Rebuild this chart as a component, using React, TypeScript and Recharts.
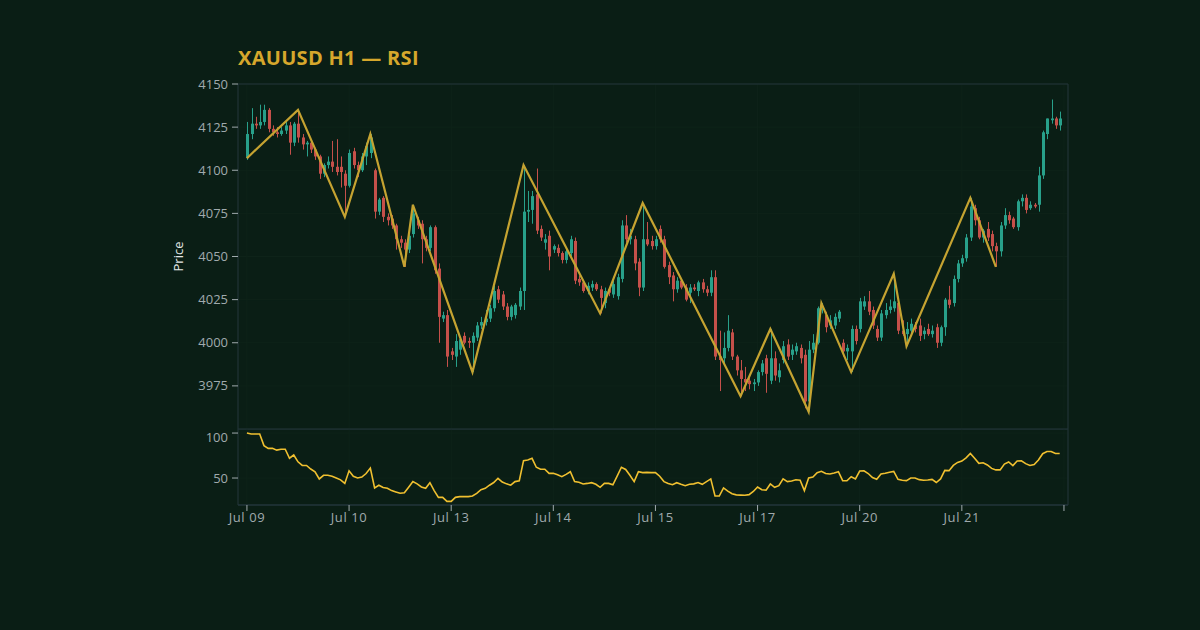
import { Bar, CartesianGrid, ComposedChart, Line, ReferenceArea, XAxis, YAxis } from "recharts";

const opens = [
  4107, 4121, 4127, 4126, 4128, 4135, 4124, 4122, 4121, 4123, 4126, 4116, 4127, 4119, 4115, 4116, 4112, 4108, 4098, 4103,
  4105, 4102, 4102, 4098, 4091, 4111, 4103, 4100, 4108, 4110, 4100, 4076, 4084, 4073, 4072, 4068, 4060, 4058, 4054, 4063,
  4071, 4069, 4060, 4055, 4067, 4043, 4014, 4016, 3995, 3992, 3996, 4004, 4001, 4000, 4003, 4010, 4012, 4014, 4020, 4031,
  4028, 4021, 4015, 4016, 4021, 4030, 4076, 4077, 4086, 4066, 4058, 4062, 4054, 4055, 4052, 4048, 4052, 4059, 4037, 4035,
  4030, 4032, 4034, 4031, 4023, 4031, 4028, 4027, 4037, 4068, 4060, 4060, 4047, 4032, 4060, 4059, 4056, 4066, 4060, 4045,
  4039, 4031, 4036, 4032, 4029, 4032, 4030, 4035, 4031, 4029, 4038, 3992, 3991, 3997, 4006, 3992, 3984, 3979, 3978, 3976,
  3977, 3983, 3991, 3978, 3991, 3980, 3990, 3999, 3993, 3995, 3997, 3993, 3966, 3996, 4000, 4019, 4016, 4010, 4010, 4014,
  4000, 3995, 3995, 4008, 4008, 4021, 4024, 4019, 4008, 4003, 4016, 4019, 4020, 4023, 4007, 4005, 4007, 4010, 4010, 4005,
  4008, 4005, 4009, 4000, 4009, 4025, 4023, 4037, 4046, 4049, 4061, 4078, 4071, 4061, 4066, 4063, 4056, 4053, 4068, 4074,
  4072, 4067, 4082, 4084, 4078, 4080, 4080, 4097, 4121, 4129, 4130, 4126,
];

const highs = [
  4128, 4136, 4131, 4138, 4138, 4136, 4126, 4125, 4125, 4128, 4128, 4128, 4135, 4121, 4117, 4117, 4113, 4109, 4104, 4108,
  4117, 4118, 4108, 4100, 4112, 4113, 4105, 4110, 4116, 4121, 4101, 4084, 4085, 4075, 4074, 4069, 4062, 4060, 4063, 4080,
  4073, 4071, 4062, 4068, 4068, 4046, 4018, 4019, 3997, 4005, 4002, 4006, 4003, 4006, 4012, 4015, 4019, 4022, 4033, 4033,
  4030, 4023, 4022, 4023, 4032, 4103, 4088, 4088, 4101, 4068, 4063, 4065, 4057, 4057, 4053, 4054, 4062, 4061, 4039, 4036,
  4035, 4036, 4035, 4033, 4032, 4032, 4036, 4040, 4071, 4074, 4066, 4062, 4049, 4081, 4070, 4062, 4062, 4068, 4062, 4047,
  4041, 4038, 4037, 4034, 4034, 4034, 4036, 4037, 4033, 4042, 4042, 4007, 4006, 4016, 4008, 3993, 3990, 3986, 3980, 3979,
  3984, 3990, 3993, 4008, 3995, 3988, 4001, 4002, 3999, 4000, 3999, 3996, 4001, 4005, 4021, 4023, 4018, 4016, 4017, 4019,
  4002, 3999, 4010, 4010, 4026, 4027, 4030, 4021, 4010, 4019, 4023, 4025, 4040, 4025, 4013, 4012, 4014, 4012, 4014, 4009,
  4011, 4010, 4011, 4010, 4026, 4033, 4039, 4048, 4051, 4063, 4084, 4080, 4073, 4066, 4070, 4065, 4058, 4070, 4078, 4076,
  4073, 4083, 4086, 4086, 4082, 4081, 4102, 4123, 4130, 4141, 4131, 4134,
];

const lows = [
  4106, 4118, 4124, 4124, 4126, 4122, 4120, 4119, 4120, 4121, 4109, 4114, 4116, 4112, 4108, 4110, 4106, 4095, 4096, 4101,
  4099, 4097, 4090, 4073, 4090, 4101, 4096, 4099, 4103, 4107, 4072, 4074, 4070, 4068, 4066, 4054, 4055, 4044, 4052, 4061,
  4066, 4046, 4053, 4053, 4040, 4000, 4012, 3986, 3990, 3986, 3993, 3999, 3997, 3983, 4001, 4008, 4010, 4012, 4018, 4023,
  4019, 4013, 4013, 4014, 4019, 4019, 4070, 4069, 4063, 4059, 4054, 4042, 4052, 4050, 4046, 4046, 4050, 4034, 4033, 4029,
  4028, 4030, 4030, 4017, 4020, 4027, 4026, 4025, 4035, 4058, 4057, 4042, 4027, 4030, 4056, 4054, 4054, 4058, 4043, 4034,
  4024, 4029, 4031, 4024, 4023, 4030, 4027, 4029, 4027, 4027, 3990, 3972, 3988, 3995, 3990, 3981, 3969, 3972, 3973, 3972,
  3975, 3981, 3971, 3976, 3978, 3977, 3988, 3990, 3990, 3993, 3988, 3962, 3960, 3994, 3999, 4017, 4006, 4008, 4008, 4012,
  3992, 3990, 3983, 3999, 4006, 4019, 4016, 4008, 4001, 4001, 4014, 4017, 4018, 4005, 4004, 3998, 4005, 4006, 4001, 4002,
  4004, 4003, 3997, 3998, 4004, 4020, 4021, 4035, 4044, 4047, 4059, 4068, 4060, 4058, 4059, 4053, 4044, 4050, 4066, 4069,
  4066, 4065, 4079, 4075, 4077, 4078, 4076, 4095, 4118, 4127, 4124, 4123,
];

const closes = [
  4121, 4127, 4126, 4128, 4135, 4124, 4122, 4121, 4123, 4126, 4116, 4127, 4119, 4115, 4116, 4112, 4108, 4098, 4103, 4105,
  4102, 4099, 4099, 4091, 4110, 4103, 4100, 4108, 4114, 4119, 4076, 4083, 4073, 4071, 4068, 4060, 4058, 4054, 4062, 4075,
  4068, 4060, 4055, 4067, 4042, 4015, 4016, 3992, 3993, 4001, 4002, 4000, 4000, 4004, 4010, 4012, 4014, 4020, 4030, 4025,
  4021, 4015, 4021, 4022, 4030, 4076, 4077, 4085, 4065, 4061, 4060, 4050, 4056, 4052, 4048, 4053, 4060, 4036, 4035, 4030,
  4033, 4034, 4031, 4026, 4030, 4029, 4034, 4038, 4068, 4060, 4062, 4046, 4032, 4060, 4057, 4056, 4060, 4060, 4044, 4038,
  4031, 4036, 4032, 4025, 4032, 4031, 4035, 4031, 4029, 4038, 3992, 3990, 3997, 4007, 3992, 3984, 3979, 3977, 3976, 3977,
  3983, 3988, 3982, 3991, 3981, 3984, 3998, 3992, 3996, 3998, 3991, 3966, 3996, 4000, 4020, 4021, 4009, 4013, 4015, 4018,
  3995, 3997, 4008, 4001, 4024, 4024, 4018, 4010, 4003, 4017, 4019, 4021, 4024, 4007, 4005, 4008, 4011, 4008, 4004, 4007,
  4005, 4007, 4000, 4009, 4025, 4022, 4037, 4046, 4049, 4061, 4079, 4071, 4061, 4065, 4061, 4056, 4053, 4068, 4074, 4071,
  4067, 4082, 4084, 4077, 4080, 4079, 4097, 4122, 4130, 4130, 4126, 4130,
];

const rsi = [
  100, 99, 99, 99, 86, 83, 83, 81, 82, 82, 72, 75.6, 68, 64, 64, 60, 57, 49, 53, 53,
  52, 50, 48, 44, 58, 52, 50, 51, 55, 61, 39, 42, 39.5, 38.6, 36, 34.5, 33, 33.5, 39.7, 46,
  43.5, 40, 38.6, 44.8, 36, 28.5, 28.5, 24, 24, 28.5, 29.3, 29.3, 29.3, 30, 33, 37, 38.5, 42, 45, 49.7,
  45.5, 43.5, 42, 46, 47, 69.3, 70, 71.9, 62, 59.7, 59.7, 55.2, 55.2, 53.6, 51.5, 54, 57, 46, 45.2, 43.4,
  44, 44.8, 43, 39.7, 44, 44, 42.5, 52, 62, 59.5, 53, 46, 57, 56, 56.3, 56, 56, 52, 46, 44,
  42.5, 44.8, 43, 41.5, 43, 43.5, 45, 43, 46, 49, 30, 30, 39, 35.5, 32.5, 31.3, 31, 30.8, 31.5, 35,
  40, 37, 36.5, 43.4, 39.7, 41.5, 49, 46, 46.7, 48, 47.5, 36, 50, 51, 56, 57.5, 55, 54.5, 55.5, 57,
  47, 47, 51.5, 49, 57.8, 58, 55, 50.5, 48.6, 54.5, 55.3, 56.5, 57.3, 48.6, 47.5, 47.1, 50, 50, 48.2, 47.6,
  47.8, 48.5, 45, 49, 58.5, 58.2, 64, 67.3, 68.8, 72.5, 77.4, 72, 66.3, 67, 64.5, 60.7, 59, 59, 65.5, 67.8,
  63.8, 68.9, 69.2, 66, 64, 65, 70, 77, 79.5, 79.5, 77.2, 77.2,
];

// zigzag pivots (candle index, price)
const zigIdx = [0, 12, 23, 29, 37, 39, 53, 65, 83, 93, 116, 123, 132, 135, 142, 152, 155, 170, 176];
const zigPrice = [4107, 4135, 4073, 4121, 4044, 4080, 3983, 4103, 4017, 4081, 3969, 4008, 3960, 4023, 3983, 4040, 3998, 4084, 4044];

const xTicks = [0, 24, 48, 72, 96, 120, 144, 168, 192];
const xLabels = ["Jul 09", "Jul 10", "Jul 13", "Jul 14", "Jul 15", "Jul 17", "Jul 20", "Jul 21", ""];
const priceTicks = [3975, 4000, 4025, 4050, 4075, 4100, 4125, 4150];
const rsiTicks = [50, 100];

const BG = "#0a1e15";
const BORDER = "#22343a";
const GRID = "#0e2319";
const TEXT = "#a0aaad";
const BULL = "#28a08a";
const BEAR = "#c5504a";
const FONT = "'Open Sans', 'Noto Sans', sans-serif";

const rows = opens.map((open, i) => {
  const z = zigIdx.indexOf(i);
  return {
    i,
    open,
    high: highs[i],
    low: lows[i],
    close: closes[i],
    range: [lows[i], highs[i]],
    rsi: rsi[i],
    zig: z >= 0 ? zigPrice[z] : null,
  };
});

const X_DOMAIN: [number, number] = [-2.1, 192.95];
const tickFmt = (v: number) => {
  const k = xTicks.indexOf(v);
  return k >= 0 ? xLabels[k] : "";
};

const Candle = (props: any) => {
  const { x, y, width, height } = props;
  const p = props.payload || props;
  const top = Math.min(y, y + height);
  const h = Math.abs(height);
  const k = p.high === p.low ? 0 : h / (p.high - p.low);
  const yo = top + (p.high - p.open) * k;
  const yc = top + (p.high - p.close) * k;
  const color = p.close >= p.open ? BULL : BEAR;
  const cx = Math.round(x + width / 2) + 0.5;
  return (
    <g>
      <line x1={cx} x2={cx} y1={top} y2={top + h} stroke={color} strokeWidth={1} />
      <rect x={cx - 1.5} y={Math.min(yo, yc)} width={3} height={Math.max(1, Math.abs(yc - yo))} fill={color} />
    </g>
  );
};

const tickStyle = { fill: TEXT, fontSize: 13, fontFamily: FONT };
const xTickStyle = { fill: TEXT, fontSize: 13, fontFamily: FONT, letterSpacing: 0.6 };

const App = () => {
  return (
    <div style={{ position: "relative", width: 1200, height: 630, background: BG, fontFamily: FONT }}>
      <style>{`body{margin:0;background:${BG}}`}</style>
      <div style={{ position: "absolute", left: 238, top: 44, color: "#d6a72c", fontSize: 20, fontWeight: 700, letterSpacing: 0.3 }}>
        XAUUSD H1 — RSI
      </div>
      <div style={{ position: "absolute", left: 0, top: 0 }}>
        <ComposedChart width={1200} height={430} data={rows} margin={{ top: 84, right: 132, bottom: 1, left: 178 }}>
          <CartesianGrid stroke={GRID} />
          <XAxis dataKey="i" type="number" domain={X_DOMAIN} ticks={xTicks} allowDataOverflow hide />
          <YAxis
            domain={[3950, 4150]}
            ticks={priceTicks}
            allowDataOverflow
            width={60}
            tick={tickStyle}
            tickLine={{ stroke: TEXT }}
            axisLine={false}
            tickMargin={4}
            label={{ value: "Price", angle: -90, position: "insideLeft", offset: 0, style: { textAnchor: "middle", fill: "#e3e6e6", fontSize: 13, fontFamily: FONT } }}
          />
          <ReferenceArea x1={X_DOMAIN[0]} x2={X_DOMAIN[1]} y1={3950} y2={4150} fill="none" stroke={BORDER} ifOverflow="visible" />
          <Bar dataKey="range" barSize={3} shape={Candle} isAnimationActive={false} />
          <Line dataKey="zig" connectNulls stroke="#c5a331" strokeWidth={2.2} dot={false} isAnimationActive={false} />
        </ComposedChart>
      </div>
      <div style={{ position: "absolute", left: 0, top: 429 }}>
        <ComposedChart width={1200} height={110} data={rows} margin={{ top: 0, right: 132, bottom: 4, left: 178 }}>
          <CartesianGrid stroke={GRID} />
          <XAxis
            dataKey="i"
            type="number"
            domain={X_DOMAIN}
            ticks={xTicks}
            allowDataOverflow
            tickFormatter={tickFmt}
            tick={xTickStyle}
            tickLine={{ stroke: TEXT }}
            axisLine={{ stroke: BORDER }}
            height={30}
          />
          <YAxis
            domain={[20, 104.5]}
            ticks={rsiTicks}
            allowDataOverflow
            width={60}
            tick={tickStyle}
            tickLine={{ stroke: TEXT }}
            axisLine={false}
            tickMargin={4}
          />
          <ReferenceArea x1={X_DOMAIN[0]} x2={X_DOMAIN[1]} y1={20} y2={104.5} fill="none" stroke={BORDER} ifOverflow="visible" />
          <Line dataKey="rsi" stroke="#f0c030" strokeWidth={1.6} dot={false} isAnimationActive={false} />
        </ComposedChart>
      </div>
    </div>
  );
};

export default App;
